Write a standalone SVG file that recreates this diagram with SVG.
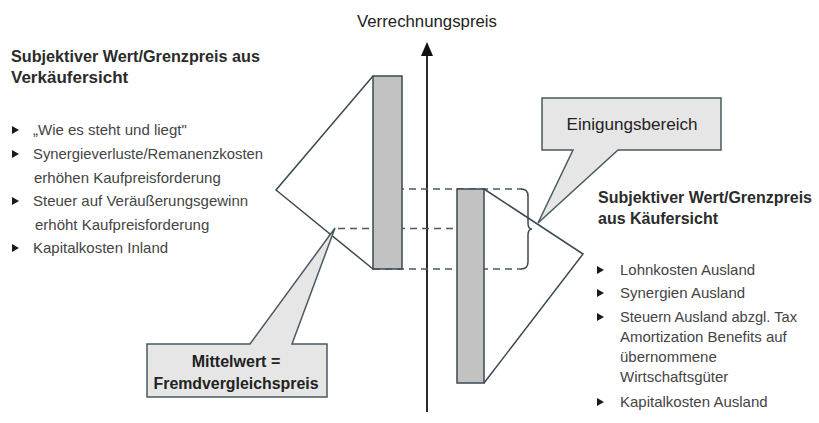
<svg xmlns="http://www.w3.org/2000/svg" width="819" height="423" viewBox="0 0 819 423">
<style>
.ln{fill:none;stroke:#3a4a52;stroke-width:1.5;stroke-linejoin:miter}
.bar{fill:#c2c2c2;stroke:#3a4a52;stroke-width:1.5}
.dash{fill:none;stroke:#4a5a62;stroke-width:1.5;stroke-dasharray:7 5}
.call{fill:#e6e6e6;stroke:#4a5a62;stroke-width:1.5;stroke-linejoin:miter}
.h{font-family:"Liberation Sans",Arial,sans-serif;font-weight:bold;font-size:17px;fill:#2b2b2b}
.h2{font-family:"Liberation Sans",Arial,sans-serif;font-weight:bold;font-size:16px;fill:#2b2b2b}
.t{font-family:"Liberation Sans",Arial,sans-serif;font-size:15px;fill:#444}
.c{font-family:"Liberation Sans",Arial,sans-serif;font-size:17px;fill:#222;text-anchor:middle}
.cb{font-family:"Liberation Sans",Arial,sans-serif;font-size:16px;font-weight:bold;fill:#222;text-anchor:middle}
.ax{font-family:"Liberation Sans",Arial,sans-serif;font-size:16px;fill:#222;text-anchor:middle}
</style>
<defs>
<path id="bul" d="M0 -4 L7 0 L0 4 Z" fill="#1a1a1a"/>
</defs>
<rect width="819" height="423" fill="#ffffff"/>

<g id="axis">
<line x1="427" y1="54" x2="427" y2="412" stroke="#2a2a2a" stroke-width="2"/>
<polygon points="427,42 421,56 433,56" fill="#111"/>
<text class="ax" x="427" y="27" textLength="140" lengthAdjust="spacingAndGlyphs">Verrechnungspreis</text>
</g>

<g id="connectors">
<line class="dash" x1="373" y1="189" x2="522" y2="189"/>
<line class="dash" x1="338" y1="228.5" x2="481" y2="228.5"/>
<line class="dash" x1="373" y1="269" x2="522" y2="269"/>
<path class="ln" d="M521 189 Q528 189 528 196 L528 223 Q528 229 532 229 Q528 229 528 235 L528 262 Q528 269 521 269"/>
</g>

<g id="verkaeufer">
<polyline class="ln" points="373,76 276,190 373,269"/>
<rect class="bar" x="373" y="76" width="29" height="193"/>
<line class="dash" x1="373" y1="269" x2="402" y2="269" stroke="#111"/>
</g>

<g id="kaeufer">
<rect class="bar" x="457" y="189" width="27" height="194"/>
<polyline class="ln" points="484,189 583,254 484,383"/>
</g>

<g id="einigungsbereich">
<polygon class="call" points="542,98 721,98 721,150 618,150 538,223 573,150 542,150"/>
<text class="c" x="632" y="130" textLength="131" lengthAdjust="spacingAndGlyphs">Einigungsbereich</text>
</g>

<g id="mittelwert">
<polygon class="call" points="147,344 250,344 335,228 292,344 327,344 327,397 147,397"/>
<text class="cb" x="236" y="367">Mittelwert =</text>
<text class="cb" x="236" y="389" textLength="165" lengthAdjust="spacingAndGlyphs">Fremdvergleichspreis</text>
</g>

<g id="verkaeufersicht">
<text class="h" x="11" y="62" textLength="249" lengthAdjust="spacingAndGlyphs">Subjektiver Wert/Grenzpreis aus</text>
<text class="h" x="11" y="83">Verkäufersicht</text>
<use href="#bul" x="12" y="130"/>
<text class="t" x="33" y="135">„Wie es steht und liegt"</text>
<use href="#bul" x="12" y="154"/>
<text class="t" x="33" y="159" textLength="230" lengthAdjust="spacingAndGlyphs">Synergieverluste/Remanenzkosten</text>
<text class="t" x="34" y="182.5">erhöhen Kaufpreisforderung</text>
<use href="#bul" x="12" y="201"/>
<text class="t" x="33" y="206">Steuer auf Veräußerungsgewinn</text>
<text class="t" x="35" y="229.5">erhöht Kaufpreisforderung</text>
<use href="#bul" x="12" y="248"/>
<text class="t" x="33" y="253">Kapitalkosten Inland</text>
</g>

<g id="kaeufersicht">
<text class="h2" x="598" y="203">Subjektiver Wert/Grenzpreis</text>
<text class="h2" x="598" y="224">aus Käufersicht</text>
<use href="#bul" x="597" y="270"/>
<text class="t" x="620" y="275">Lohnkosten Ausland</text>
<use href="#bul" x="597" y="293"/>
<text class="t" x="620" y="298">Synergien Ausland</text>
<use href="#bul" x="597" y="317"/>
<text class="t" x="620" y="322" textLength="177" lengthAdjust="spacingAndGlyphs">Steuern Ausland abzgl. Tax</text>
<text class="t" x="620" y="342">Amortization Benefits auf</text>
<text class="t" x="620" y="362">übernommene</text>
<text class="t" x="620" y="382">Wirtschaftsgüter</text>
<use href="#bul" x="597" y="402"/>
<text class="t" x="620" y="407">Kapitalkosten Ausland</text>
</g>
</svg>
